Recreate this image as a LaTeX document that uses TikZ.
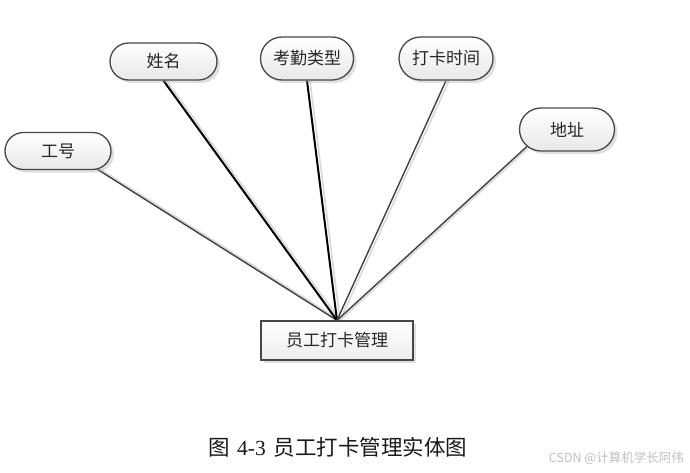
\documentclass[tikz,border=0pt]{standalone}
\usepackage{fontspec}
\setmainfont{Liberation Serif}
\newfontfamily\cjk{Noto Sans CJK SC}
\usetikzlibrary{shapes.misc,shadows,backgrounds}
\begin{document}
\begin{tikzpicture}[x=1pt,y=-1pt,
  attr/.style={rounded rectangle, draw=black!72, line width=1.3pt,
    top color=white, bottom color=black!9, minimum width=#1,
    inner sep=0pt, text=black!85, font=\cjk\fontsize{17}{18}\selectfont,
    drop shadow={shadow xshift=3pt, shadow yshift=-3pt, fill=black!35, opacity=0.35}},
  entity/.style={rectangle, draw=black!72, line width=1.3pt,
    top color=white, bottom color=black!7, minimum width=152pt, minimum height=39pt,
    inner sep=0pt, text=black!85, font=\cjk\fontsize{17}{18}\selectfont,
    drop shadow={shadow xshift=3pt, shadow yshift=-3pt, fill=black!35, opacity=0.35}},
  boldline/.style={draw=black, line width=2pt},
  thinline/.style={draw=black!75, line width=1.4pt},
  lshadow/.style={draw=black!15, line width=1.6pt}
]
\useasboundingbox (0,0) rectangle (690,472);

\node[attr=106pt, minimum height=37pt] (gh) at (58,151) {工号};
\node[attr=107pt, minimum height=37pt] (xm) at (163.5,61.5) {姓名};
\node[attr=93pt, minimum height=43pt] (kq) at (307,58.5) {考勤类型};
\node[attr=94pt, minimum height=43pt] (dk) at (446,58.5) {打卡时间};
\node[attr=95pt, minimum height=43pt] (dz) at (567,129.5) {地址};
\node[entity] (ent) at (337,340.5) {员工打卡管理};

\begin{scope}[on background layer]
  \draw[lshadow] ([xshift=3pt]gh.335) -- ([xshift=3pt]ent.north);
  \draw[lshadow] ([xshift=3pt]xm.south) -- ([xshift=3pt]ent.north);
  \draw[lshadow] ([xshift=3pt]kq.south) -- ([xshift=3pt]ent.north);
  \draw[lshadow] ([xshift=3pt]dk.south) -- ([xshift=3pt]ent.north);
  \draw[lshadow] ([xshift=3pt]dz.203) -- ([xshift=3pt]ent.north);
  \draw[thinline] (gh.335) -- (ent.north);
  \draw[boldline] (xm.south) -- (ent.north);
  \draw[boldline] (kq.south) -- (ent.north);
  \draw[thinline] (dk.south) -- (ent.north);
  \draw[thinline] (dz.203) -- (ent.north);
\end{scope}

\node[font=\fontsize{21.5}{24}\selectfont, text=black!90, inner sep=0pt] (cap) at (338,447)
  {{\cjk 图}\hspace{7pt}4-3\hspace{8pt}{\cjk 员工打卡管理实体图}};
\node[anchor=east, font=\cjk\fontsize{12.5}{14}\selectfont, text=black!25, inner sep=0pt] (wm) at (684,458)
  {CSDN @计算机学长阿伟};
\end{tikzpicture}
\end{document}
